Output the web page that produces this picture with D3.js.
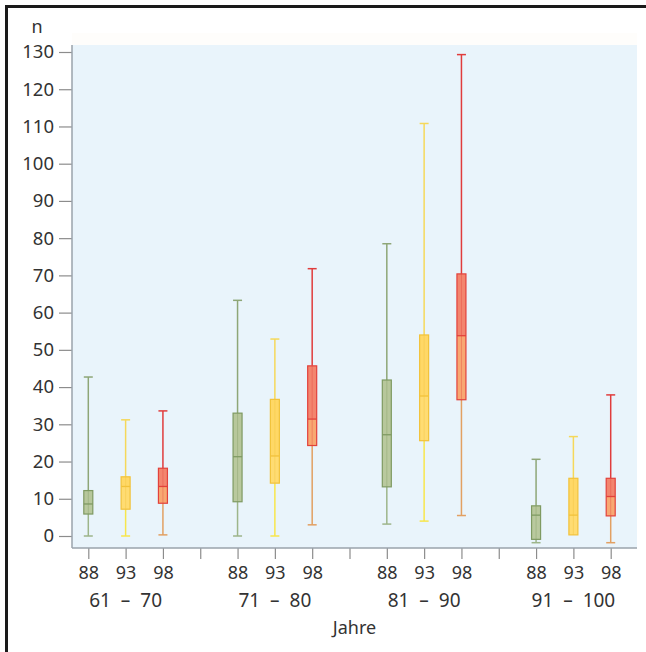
<!DOCTYPE html>
<html>
<head>
<meta charset="utf-8">
<script src="https://cdn.jsdelivr.net/npm/d3@7"></script>
<style>
  body { margin: 0; background: #fff; }
  text { font-family: "Noto Sans", sans-serif; fill: #333; }
</style>
</head>
<body>
<div class="chart"></div>
<script>
// categories
const groups = ["61 – 70", "71 – 80", "81 – 90", "91 – 100"];
const years = ["88", "93", "98"];
const yTicks = d3.range(0, 131, 10);

// box statistics, one row per group, one entry per year (88, 93, 98)
const lowVals    = [[0, 0, 0.3],   [0, 0, 3.0],      [3.2, 4.0, 5.5],     [-1.8, 0.3, -1.8]];
const q1Vals     = [[5.9, 7.2, 8.8], [9.2, 14.2, 24.3], [13.2, 25.6, 36.6], [-0.9, 0.3, 5.4]];
const medianVals = [[8.6, 13.3, 13.3], [21.3, 21.5, 31.4], [27.2, 37.6, 53.8], [5.6, 5.6, 10.6]];
const q3Vals     = [[12.2, 15.9, 18.2], [33.0, 36.7, 45.7], [41.9, 54.0, 70.4], [8.1, 15.5, 15.5]];
const highVals   = [[42.7, 31.2, 33.6], [63.3, 52.9, 71.8], [78.5, 110.8, 129.3], [20.6, 26.7, 37.9]];

const style = {
    "88": { up: "#b7c79b", low: "#b9c99e", stroke: "#7f9a62", wUp: "#8ea677", wLow: "#9db58a" },
    "93": { up: "#ffd866", low: "#ffdc72", stroke: "#f2c23a", wUp: "#f5d85a", wLow: "#f7e64c" },
    "98": { up: "#f3856e", low: "#f8a872", stroke: "#e2413b", wUp: "#e03c3c", wLow: "#e2a062" }
};

const W = 646, H = 652;
const plot = { left: 72, right: 637, top: 45, bottom: 548 };

const svg = d3.select(".chart").append("svg")
    .attr("width", W)
    .attr("height", H);

// frame (only left and top edges show in the picture)
svg.append("path")
    .attr("d", `M6.5,${H} V6.5 H${W}`)
    .attr("fill", "none")
    .attr("stroke", "#1a1a1a")
    .attr("stroke-width", 3);

// slots: every year in each group, with a separator between groups
const slots = [];
groups.forEach((g, i) => {
    if (i > 0) slots.push("sep" + i);
    years.forEach(y => slots.push(g + "|" + y));
});

const x = d3.scalePoint().domain(slots).range([88.3, 610.7]);
const y = d3.scaleLinear().domain([0, 130]).range([536, 52]);

svg.append("rect")
    .attr("x", plot.left).attr("y", 33)
    .attr("width", plot.right - plot.left).attr("height", 12)
    .attr("fill", "#fefdfb");
svg.append("rect")
    .attr("x", plot.left).attr("y", plot.top)
    .attr("width", plot.right - plot.left).attr("height", plot.bottom - plot.top)
    .attr("fill", "#e9f4fb");

// y axis
const yAxis = svg.append("g")
    .attr("transform", `translate(${plot.left},0)`)
    .call(d3.axisLeft(y).tickValues(yTicks).tickSize(13).tickPadding(5).tickSizeOuter(0));
yAxis.select(".domain").remove();
yAxis.selectAll(".tick line").attr("stroke", "#8c8c8c").attr("stroke-width", 1.2);
yAxis.selectAll(".tick text").style("font-size", "18.5px").attr("fill", "#333");
svg.append("line")
    .attr("x1", plot.left).attr("x2", plot.left)
    .attr("y1", plot.top).attr("y2", plot.bottom)
    .attr("stroke", "#9aa3ab").attr("stroke-width", 1.5);

svg.append("text")
    .attr("x", 37).attr("y", 33)
    .attr("text-anchor", "middle")
    .style("font-size", "18px")
    .text("n");

// x axis
const xAxis = svg.append("g")
    .attr("transform", `translate(0,${plot.bottom})`)
    .call(d3.axisBottom(x).tickSize(11).tickPadding(7).tickSizeOuter(0)
        .tickFormat(d => d.startsWith("sep") ? "" : d.split("|")[1]));
xAxis.select(".domain").remove();
xAxis.selectAll(".tick line").attr("stroke", "#8c8c8c").attr("stroke-width", 1.2);
xAxis.selectAll(".tick text").style("font-size", "18px").attr("fill", "#333");
svg.append("line")
    .attr("x1", plot.left).attr("x2", plot.right)
    .attr("y1", plot.bottom).attr("y2", plot.bottom)
    .attr("stroke", "#9aa3ab").attr("stroke-width", 1.5);

svg.selectAll(".group-label")
    .data(groups)
    .join("text")
    .attr("class", "group-label")
    .attr("x", g => x(g + "|93"))
    .attr("y", 607)
    .attr("text-anchor", "middle")
    .style("font-size", "19px")
    .style("word-spacing", "5px")
    .text(g => g);

svg.append("text")
    .attr("x", (plot.left + plot.right) / 2)
    .attr("y", 634)
    .attr("text-anchor", "middle")
    .style("font-size", "18px")
    .text("Jahre");

// boxes
const boxes = [];
groups.forEach((g, gi) => years.forEach((yr, yi) => boxes.push({
    key: g + "|" + yr, year: yr,
    low: lowVals[gi][yi], q1: q1Vals[gi][yi], med: medianVals[gi][yi],
    q3: q3Vals[gi][yi], high: highVals[gi][yi]
})));

const boxW = 9, capW = 9;
const bg = svg.append("g").selectAll("g")
    .data(boxes)
    .join("g")
    .attr("transform", d => `translate(${x(d.key)},0)`);

// whiskers
bg.append("line")
    .attr("y1", d => y(d.q3)).attr("y2", d => y(d.high))
    .attr("stroke", d => style[d.year].wUp).attr("stroke-width", 1.5);
bg.append("line")
    .attr("y1", d => y(d.low)).attr("y2", d => y(d.q1))
    .attr("stroke", d => style[d.year].wLow).attr("stroke-width", 1.5);
bg.append("line")
    .attr("x1", -capW / 2).attr("x2", capW / 2)
    .attr("y1", d => y(d.high)).attr("y2", d => y(d.high))
    .attr("stroke", d => style[d.year].wUp).attr("stroke-width", 1.5);
bg.filter(d => d.low < d.q1).append("line")
    .attr("x1", -capW / 2).attr("x2", capW / 2)
    .attr("y1", d => y(d.low)).attr("y2", d => y(d.low))
    .attr("stroke", d => style[d.year].wLow).attr("stroke-width", 1.5);

// box halves
bg.append("rect")
    .attr("x", -boxW / 2).attr("width", boxW)
    .attr("y", d => y(d.q3)).attr("height", d => y(d.med) - y(d.q3))
    .attr("fill", d => style[d.year].up);
bg.append("rect")
    .attr("x", -boxW / 2).attr("width", boxW)
    .attr("y", d => y(d.med)).attr("height", d => y(d.q1) - y(d.med))
    .attr("fill", d => style[d.year].low);
bg.append("rect")
    .attr("x", -boxW / 2).attr("width", boxW)
    .attr("y", d => y(d.q3)).attr("height", d => y(d.q1) - y(d.q3))
    .attr("fill", "none")
    .attr("stroke", d => style[d.year].stroke).attr("stroke-width", 1.2);
// inner centre line, as in the picture
bg.append("line")
    .attr("y1", d => y(d.q3)).attr("y2", d => y(d.q1))
    .attr("stroke", d => style[d.year].stroke).attr("stroke-width", 0.6).attr("opacity", 0.6);
bg.append("line")
    .attr("x1", -boxW / 2).attr("x2", boxW / 2)
    .attr("y1", d => y(d.med)).attr("y2", d => y(d.med))
    .attr("stroke", d => style[d.year].stroke).attr("stroke-width", 1.3);
</script>
</body>
</html>
